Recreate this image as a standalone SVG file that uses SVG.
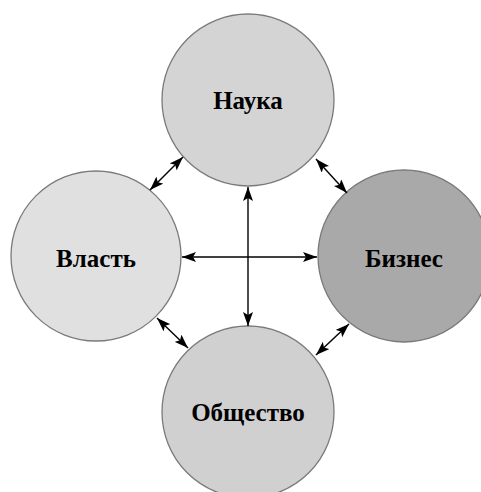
<svg xmlns="http://www.w3.org/2000/svg" width="481" height="492" viewBox="0 0 481 492">
<style>
.node circle{stroke:#7a7a7a;stroke-width:1.3}
.node text{font-family:"Liberation Serif","Times New Roman",serif;font-weight:bold;font-size:25px;fill:#000;text-anchor:middle;dominant-baseline:central}
.conn line{stroke:#000;stroke-width:1.4;marker-start:url(#ah);marker-end:url(#ah)}
</style>
<defs>
<marker id="ah" viewBox="0 0 14 10" refX="14" refY="5" markerWidth="14" markerHeight="10" markerUnits="userSpaceOnUse" orient="auto-start-reverse">
<path d="M0,0 L14,5 L0,10 L3,5 Z" fill="#000"/>
</marker>
</defs>
<rect width="481" height="492" fill="#fff"/>
<g id="nauka" class="node"><circle cx="248" cy="100" r="86" fill="#d4d4d4"/><text x="248" y="100">Наука</text></g>
<g id="vlast" class="node"><circle cx="96" cy="256" r="85" fill="#e0e0e0"/><text x="96" y="258">Власть</text></g>
<g id="biznes" class="node"><circle cx="404" cy="256" r="86" fill="#a9a9a9"/><text x="404" y="258">Бизнес</text></g>
<g id="obshchestvo" class="node"><circle cx="248" cy="412" r="86" fill="#d0d0d0"/><text x="248" y="412">Общество</text></g>
<g id="connectors" class="conn">
<line x1="248" y1="187" x2="248" y2="326"/>
<line x1="182" y1="257" x2="317" y2="257"/>
<line x1="183" y1="157" x2="150" y2="190"/>
<line x1="157" y1="318" x2="188" y2="348"/>
<line x1="316" y1="159" x2="347" y2="193"/>
<line x1="349" y1="324" x2="316" y2="355"/>
</g>
</svg>
